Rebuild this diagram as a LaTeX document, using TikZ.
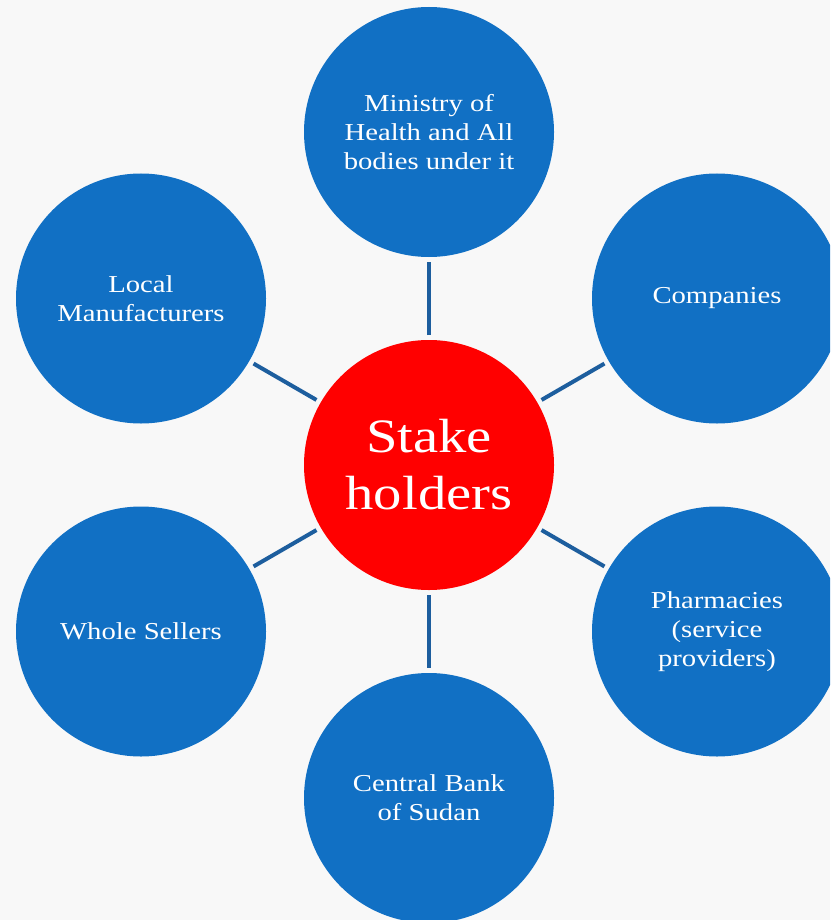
\documentclass[tikz,border=0pt]{standalone}
\usepackage{fontspec}
\setmainfont[FakeStretch=1.18]{Liberation Serif}
\definecolor{bgc}{HTML}{F8F8F8}
\definecolor{circblue}{HTML}{1170C4}
\definecolor{linkblue}{HTML}{1D5E9E}
\definecolor{hubred}{HTML}{FF0000}
\tikzset{
  sat/.style={circle, fill=circblue, minimum size=250pt, inner sep=0pt, outer sep=5pt,
    text=white, align=center, font=\fontsize{24.3}{29}\selectfont},
  hub/.style={circle, fill=hubred, minimum size=250pt, inner sep=0pt, outer sep=5pt,
    text=white, align=center, font=\fontsize{48}{57}\selectfont},
  link/.style={draw=linkblue, line width=4pt}
}
\begin{document}
\begin{tikzpicture}[x=1pt,y=-1pt]
\useasboundingbox (0,0) rectangle (830,920);
\clip (0,0) rectangle (830,920);
\fill[bgc] (0,0) rectangle (830,920);
\node[hub] (c) at (429,465) {Stake\\holders};
\node[sat] (min) at (429,132) {Ministry of\\Health and All\\bodies under it};
\node[sat] (comp) at (717,298.5) {\raisebox{-3pt}{Companies}};
\node[sat] (pharm) at (717,631.5) {Pharmacies\\(service\\providers)};
\node[sat] (bank) at (429,798) {Central Bank\\of Sudan};
\node[sat] (whole) at (141,631.5) {\raisebox{-2pt}{Whole Sellers}};
\node[sat] (local) at (141,298.5) {Local\\Manufacturers};
\foreach \n in {min,comp,pharm,bank,whole,local}
  \draw[link] (c) -- (\n);
\end{tikzpicture}
\end{document}
